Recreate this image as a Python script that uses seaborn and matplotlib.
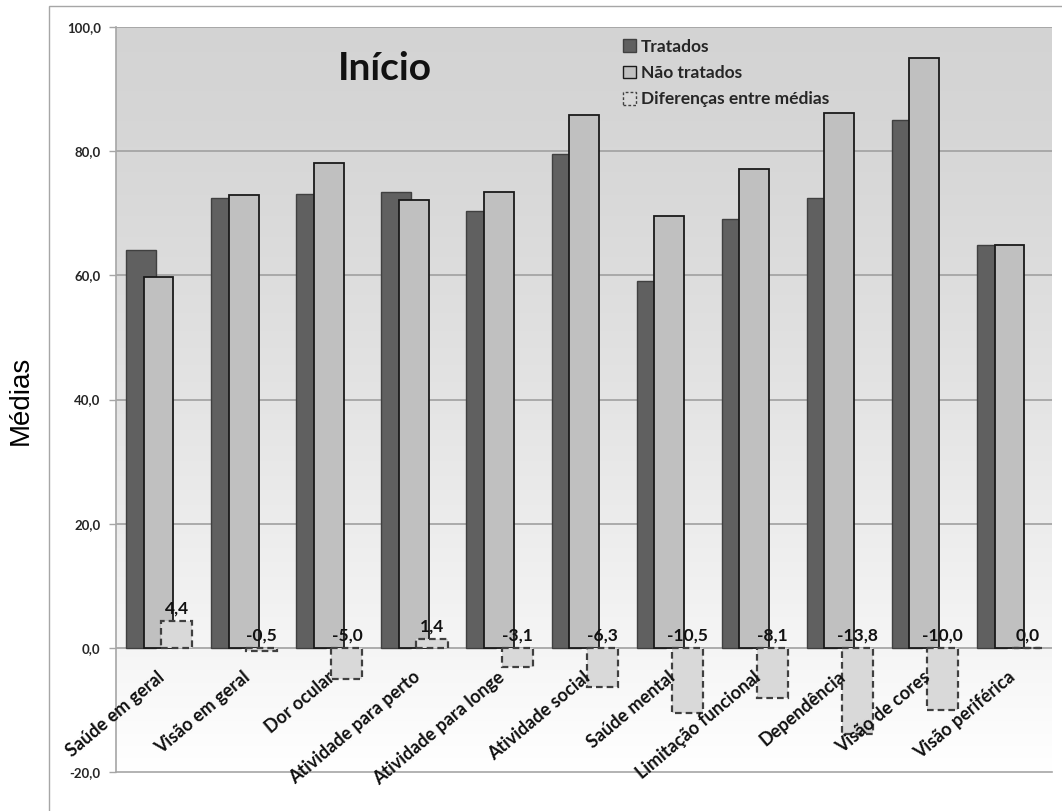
import numpy as np
import pandas as pd
import matplotlib
matplotlib.use("Agg")
import matplotlib.pyplot as plt
import seaborn as sns
from matplotlib.patches import Patch, Rectangle
from matplotlib.ticker import FuncFormatter

# Mean scores per domain at baseline
categorias = ["Saúde em geral", "Visão em geral", "Dor ocular", "Atividade para perto",
              "Atividade para longe", "Atividade social", "Saúde mental",
              "Limitação funcional", "Dependência", "Visão de cores", "Visão periférica"]
tratados = [64.1, 72.5, 73.1, 73.5, 70.3, 79.6, 59.1, 69.1, 72.4, 85.0, 64.9]
nao_tratados = [59.7, 73.0, 78.1, 72.1, 73.4, 85.9, 69.6, 77.2, 86.2, 95.0, 64.9]
diferencas = [4.4, -0.5, -5.0, 1.4, -3.1, -6.3, -10.5, -8.1, -13.8, -10.0, 0.0]
legenda = ["Tratados", "Não tratados", "Diferenças entre médias"]
y_ticks = [-20, 0, 20, 40, 60, 80, 100]

sns.set_theme(style="white")
plt.rcParams["font.family"] = ["Lato", "DejaVu Sans"]

W, H = 1062, 811
fig = plt.figure(figsize=(W / 100, H / 100), dpi=100)
fig.patch.set_facecolor("white")

# outer chart frame
fig.add_artist(Rectangle((49 / W, -0.1), 1.2, 1 - 6 / H + 0.1, transform=fig.transFigure,
                         fill=False, edgecolor="#a6a6a6", linewidth=1.0))

ax = fig.add_axes([116 / W, 39 / H, 936 / W, 745 / H])

# vertical gradient background of the plot area
frac = np.linspace(0, 1, 256) ** 1.4
grad = (0.83 + 0.17 * frac)[:, None]
ax.imshow(np.repeat(grad[:, :, None], 3, axis=2), extent=[0, 1, 0, 1], transform=ax.transAxes,
          aspect="auto", origin="upper", zorder=0)

df = pd.DataFrame({"cat": categorias, "t": tratados, "nt": nao_tratados, "d": diferencas})

def shifted_bars(col, offset, width, **kw):
    n0 = len(ax.patches)
    sns.barplot(data=df, x="cat", y=col, width=width, ax=ax, errorbar=None, **kw)
    for p in ax.patches[n0:]:
        p.set_x(p.get_x() + offset)
    return ax.patches[n0:]

shifted_bars("t", -0.206, 0.35, color="#606060", edgecolor="#404040", linewidth=1.0,
             saturation=1, zorder=3)
shifted_bars("nt", 0.0, 0.35, color="#c0c0c0", edgecolor="#1a1a1a", linewidth=1.3,
             saturation=1, zorder=4)
shifted_bars("d", 0.214, 0.365, color="#d9d9d9", edgecolor="#404040", linewidth=1.6,
             linestyle=(0, (3, 1.8)), saturation=1, zorder=5)

ax.set_xlim(-0.5, 10.5)
ax.set_ylim(-20, 100)
ax.set_yticks(y_ticks)
ax.yaxis.set_major_formatter(FuncFormatter(lambda v, _: f"{v:.1f}".replace(".", ",")))
for lab in ax.get_yticklabels():
    lab.set_fontweight("bold")
ax.tick_params(axis="y", length=5, width=1, color="#a6a6a6", labelsize=9.5,
               labelcolor="#262626", pad=6, left=True)
ax.tick_params(axis="x", bottom=False, labelbottom=False)
ax.set_xlabel("")
ax.set_ylabel("")

for v in [20, 40, 60, 80, 100]:
    ax.axhline(v, color="#a0a0a0", linewidth=1.2, zorder=1)
ax.axhline(0, color="#a0a0a0", linewidth=1.2, zorder=2)

for s in ["top", "right"]:
    ax.spines[s].set_visible(False)
for s in ["left", "bottom"]:
    ax.spines[s].set_color("#a6a6a6")
    ax.spines[s].set_linewidth(1.2)

# category labels next to the zero line
for i, c in enumerate(categorias):
    ax.text(i - 0.02, -3.3, c, rotation=40, rotation_mode="anchor", ha="right", va="top",
            fontsize=13, fontweight="bold", color="#111111", zorder=6)

# value labels on the difference bars
for i, d in enumerate(diferencas):
    ax.annotate(f"{d:.1f}".replace(".", ","), xy=(i + 0.214, max(d, 0)),
                xytext=(0, 3), textcoords="offset points", ha="center", va="bottom",
                fontsize=12.5, fontweight="bold", color="#111111", zorder=7)

fig.text(385 / W, 1 - 69 / H, "Início", ha="center", va="center",
         fontsize=28, fontweight="bold", color="#111111")
fig.text(21 / W, 1 - 400 / H, "Médias", rotation=90, ha="center", va="center",
         fontsize=20, family=["Liberation Sans", "DejaVu Sans"], color="black")

handles = [Patch(facecolor="#606060", edgecolor="#404040"),
           Patch(facecolor="#c0c0c0", edgecolor="#1a1a1a"),
           Patch(facecolor="#d9d9d9", edgecolor="#404040", linestyle=(0, (2, 1.5)))]
leg = fig.legend(handles, legenda, loc="upper left", bbox_to_anchor=(607 / W, 1 - 23 / H),
                 frameon=False, handlelength=0.75, handleheight=0.75, handletextpad=0.3,
                 labelspacing=0.6, prop={"weight": "bold", "size": 12.5})

fig.savefig("out.png", dpi=100)
